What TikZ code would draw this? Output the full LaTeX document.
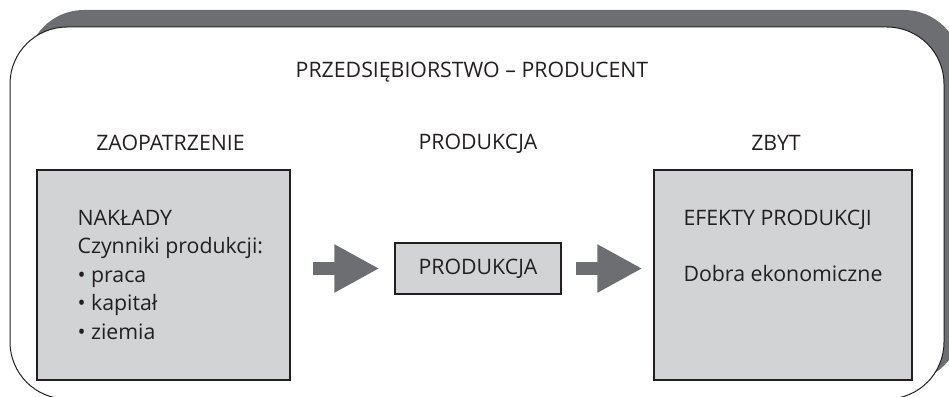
\documentclass[tikz,border=0pt]{standalone}
\usepackage{fontspec}
\setmainfont{Open Sans}
\definecolor{framegray}{HTML}{6D6E71}
\definecolor{boxgray}{HTML}{D1D3D4}
\definecolor{inkblack}{HTML}{231F20}
\usetikzlibrary{
  arrows.meta,
  calc,
  positioning,
}
\tikzset{
  box/.style={draw=inkblack,line width=1.2pt,fill=boxgray,inner sep=0pt},
  txt/.style={text=inkblack,inner sep=0pt,font=\fontsize{21.3}{28.5}\selectfont},
  bigarrow/.style={draw=framegray,line width=13pt,-{Triangle[length=45pt,width=45pt]}},
}

\begin{document}
\begin{tikzpicture}[x=1pt,y=-1pt]
        \path[use as bounding box,clip] (0,0) rectangle (949,396);

        % frame and its shadow
        \fill[framegray,rounded corners=57pt] (27,10) rectangle (961,382);
        \draw[inkblack,line width=1pt,fill=white,rounded corners=57pt] (10,27) rectangle (944,399);

        \node[box,minimum width=253pt,minimum height=210pt]    (zaop)    at (163.5,275)    {};
        \node[box,minimum width=166pt,minimum height=51pt,txt]    (prod)    at (478,268.5)    {PRODUKCJA};
        \node[box,minimum width=258pt,minimum height=210pt]    (zbyt)    at (783,275)    {};

        \node[txt,anchor=base]    (firma)    at (472,77)    {PRZEDSIĘBIORSTWO – PRODUCENT};
        \node[txt,anchor=base]    (hzaop)    at ($(zaop.north)+(7,-19)$)    {ZAOPATRZENIE};
        \node[txt,anchor=base]    (hprod)    at ($(prod.north)+(0,-93)$)    {PRODUKCJA};
        \node[txt,anchor=base]    (hzbyt)    at ($(zbyt.north)+(-7,-19)$)    {ZBYT};

        \node[txt,anchor=north west,align=left]    (naklady)    at ($(zaop.north west)+(41,40.5)$)    {NAKŁADY\\Czynniki produkcji:\\• praca\\• kapitał\\• ziemia};
        \node[txt,anchor=north,align=left]    (efekty)    at ($(zbyt.north)+(0,40)$)    {EFEKTY PRODUKCJI\\[28pt]Dobra ekonomiczne};

        \draw[bigarrow] ($(zaop.east|-prod.west)+(22,0)$) -- ($(prod.west)+(-15,0)$);
        \draw[bigarrow] ($(prod.east)+(14,0)$) -- ($(zbyt.west|-prod.east)+(-11,0)$);

    \end{tikzpicture}
\end{document}
